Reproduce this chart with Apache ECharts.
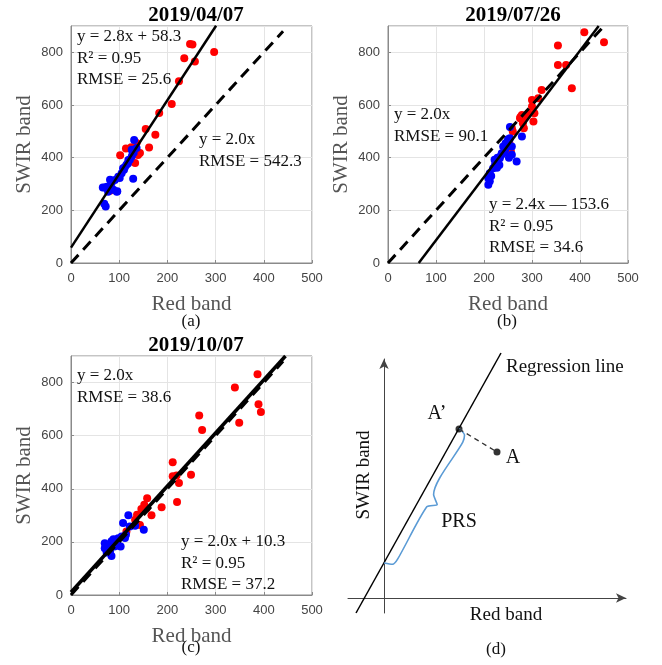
<!DOCTYPE html>
<html>
<head>
<meta charset="utf-8">
<script src="https://cdn.jsdelivr.net/npm/echarts@6/dist/echarts.min.js"></script>
<style>
body { margin: 0; background: #fff; }
#chart { width: 662px; height: 665px; }
</style>
</head>
<body>
<div id="chart"></div>
<script>
// panel titles + captions
var dates = ['2019/04/07', '2019/07/26', '2019/10/07']
var captions = ['(a)', '(b)', '(c)', '(d)']

// (a) 2019/04/07  [red band, swir band]
var redA = [[247, 832], [252, 830], [235, 778], [297, 801], [257, 765], [224, 690], [209, 604], [183, 570],
  [155, 509], [175, 487], [162, 439], [114, 435], [102, 409], [139, 410], [143, 418], [133, 380],
  [136, 456], [119, 382], [125, 440], [81, 274]]
var blueA = [[66, 287], [69, 225], [72, 215], [81, 316], [88, 278], [96, 272], [81, 278], [101, 323],
  [110, 354], [115, 373], [122, 392], [128, 418], [131, 467], [136, 437], [126, 430], [129, 320],
  [130, 419], [126, 404], [119, 391], [108, 360], [105, 341], [98, 328], [91, 315], [84, 303],
  [70, 287], [77, 271], [95, 271], [75, 290], [112, 365], [118, 378]]
var fitA = [[0, 58.3], [301, 901]]
var refA = [[0, 0], [440, 880]]

// (b) 2019/07/26
var redB = [[409, 876], [450, 838], [354, 826], [354, 752], [371, 752], [383, 664], [320, 657], [313, 626],
  [300, 619], [300, 594], [305, 569], [292, 569], [279, 562], [286, 556], [275, 550], [281, 531],
  [303, 537], [283, 512], [258, 512], [260, 499], [253, 455], [256, 423], [249, 455], [276, 554]]
var blueB = [[254, 516], [254, 474], [251, 461], [247, 442], [244, 430], [258, 442], [237, 417], [230, 398],
  [226, 385], [223, 373], [219, 360], [212, 341], [209, 322], [209, 297], [268, 385], [279, 480],
  [258, 411], [233, 398], [240, 442], [250, 470], [227, 362], [232, 372], [222, 392], [215, 330],
  [245, 455], [236, 410], [228, 400], [212, 310], [252, 400], [242, 420]]
var fitB = [[64, 0], [439, 900]]
var refB = [[0, 0], [445, 890]]

// (c) 2019/10/07
var redC = [[387, 831], [340, 781], [389, 718], [394, 689], [349, 649], [266, 676], [272, 621], [211, 500],
  [211, 447], [219, 450], [249, 453], [224, 422], [220, 350], [188, 330], [167, 300], [158, 364],
  [152, 340], [157, 327], [146, 324], [137, 302], [143, 264], [133, 283], [115, 239], [150, 320]]
var blueC = [[119, 300], [108, 271], [122, 258], [133, 261], [151, 246], [114, 227], [105, 220], [98, 214],
  [91, 208], [84, 202], [99, 185], [90, 183], [77, 185], [70, 195], [70, 176], [81, 164],
  [84, 147], [74, 160], [95, 195], [103, 183], [112, 215], [88, 210]]
var fitC = [[0, 10.3], [445, 900]]
var refC = [[0, 0], [440, 880]]

// equation text blocks
var eqA = ['y = 2.8x + 58.3', 'R² = 0.95', 'RMSE = 25.6']
var refTextA = ['y = 2.0x', 'RMSE = 542.3']
var eqB = ['y = 2.4x — 153.6', 'R² = 0.95', 'RMSE = 34.6']
var refTextB = ['y = 2.0x', 'RMSE = 90.1']
var eqC = ['y = 2.0x + 10.3', 'R² = 0.95', 'RMSE = 37.2']
var refTextC = ['y = 2.0x', 'RMSE = 38.6']

// (d) schematic, arbitrary units, origin where the axes cross
var regLine = [[-28, -15], [117, 245]]
var pointA1 = [75, 169]   // A'
var pointA = [113, 146]   // A
var brace = [[0, 35], [8.5, 33.7], [13.6, 38.8], [42.8, 91.2], [53.2, 93.4], [49.6, 103.4],
  [78.8, 155.8], [80.5, 162.9], [75, 169.5]]

var serif = 'Liberation Serif'
var sans = 'Liberation Sans'

const myCharts = echarts.init(document.getElementById('chart'))

function xAx(gi) {
  return {
    gridIndex: gi, type: 'value', min: 0, max: 500, interval: 100,
    name: 'Red band', nameLocation: 'middle', nameGap: 31,
    nameTextStyle: { fontFamily: serif, fontSize: 21, color: '#555' },
    axisLine: { lineStyle: { color: '#8a8a8a' } },
    axisTick: { inside: true, length: 3, lineStyle: { color: '#8a8a8a' } },
    axisLabel: { color: '#444', fontSize: 13, fontFamily: sans, margin: 9 },
    splitLine: { lineStyle: { color: '#e4e4e4' } }
  }
}
function yAx(gi) {
  return {
    gridIndex: gi, type: 'value', min: 0, max: 900, interval: 200,
    name: 'SWIR band', nameLocation: 'middle', nameGap: 36,
    nameTextStyle: { fontFamily: serif, fontSize: 21, color: '#555' },
    axisLine: { show: true, lineStyle: { color: '#8a8a8a' } },
    axisTick: { show: true, inside: true, length: 3, lineStyle: { color: '#8a8a8a' } },
    axisLabel: {
      color: '#444', fontSize: 13, fontFamily: sans, margin: 8, showMaxLabel: false,
      formatter: function (v) { return v > 800 ? '' : v }
    },
    splitLine: { lineStyle: { color: '#e4e4e4' } }
  }
}
function schemAx(gi, min, max) {
  return {
    gridIndex: gi, type: 'value', min: min, max: max,
    axisLine: { onZero: true, symbol: ['none', 'arrow'], symbolSize: [7, 10], lineStyle: { color: '#444', width: 1 } },
    axisTick: { show: false }, axisLabel: { show: false }, splitLine: { show: false }
  }
}
function panel(gi, red, blue, fit, ref, fitWidth) {
  return [
    { type: 'scatter', xAxisIndex: gi, yAxisIndex: gi, data: red, symbolSize: 8, itemStyle: { color: '#ff0000', opacity: 1 } },
    { type: 'scatter', xAxisIndex: gi, yAxisIndex: gi, data: blue, symbolSize: 8, itemStyle: { color: '#0000ff', opacity: 1 } },
    { type: 'line', xAxisIndex: gi, yAxisIndex: gi, data: ref, symbol: 'none', lineStyle: { color: '#000', width: 3, type: [11, 7] } },
    { type: 'line', xAxisIndex: gi, yAxisIndex: gi, data: fit, symbol: 'none', lineStyle: { color: '#000', width: fitWidth } }
  ]
}
function block(lines, x, y0) {
  return lines.map(function (t, i) {
    return {
      type: 'text', x: x, y: y0 + i * 21.5, z: 100,
      style: { text: t, font: '17px "' + serif + '"', fill: '#111', align: 'left', verticalAlign: 'middle' }
    }
  })
}
function label(t, x, y, size, extra) {
  var g = {
    type: 'text', x: x, y: y, z: 100,
    style: { text: t, font: size + 'px "' + serif + '"', fill: '#111', align: 'center', verticalAlign: 'middle' }
  }
  return Object.assign(g, extra || {})
}

var regLabel = label('Regression line', 506, 367, 19)
regLabel.style.align = 'left'

const options = {
  animation: false,
  title: [
    { text: dates[0], left: 191, top: 0, textAlign: 'center' },
    { text: dates[1], left: 508, top: 0, textAlign: 'center' },
    { text: dates[2], left: 191, top: 330, textAlign: 'center' }
  ].map(function (t) {
    t.textStyle = { fontFamily: serif, fontSize: 21, fontWeight: 'bold', color: '#000' }
    return t
  }),
  grid: [
    { left: 71, top: 26, width: 241, height: 237, show: true, borderColor: '#8a8a8a', borderWidth: 1 },
    { left: 388, top: 26, width: 240, height: 237, show: true, borderColor: '#8a8a8a', borderWidth: 1 },
    { left: 71, top: 356, width: 241, height: 239, show: true, borderColor: '#8a8a8a', borderWidth: 1 },
    { left: 348, top: 359, width: 278, height: 254 }
  ],
  xAxis: [xAx(0), xAx(1), xAx(2), schemAx(3, -36, 242)],
  yAxis: [yAx(0), yAx(1), yAx(2), schemAx(3, -15, 239)],
  series: [].concat(
    panel(0, redA, blueA, fitA, refA, 2.5),
    panel(1, redB, blueB, fitB, refB, 2.5),
    panel(2, redC, blueC, fitC, refC, 3.5),
    [
      { type: 'line', xAxisIndex: 3, yAxisIndex: 3, data: regLine, symbol: 'none', clip: false, lineStyle: { color: '#000', width: 1.5 } },
      { type: 'line', xAxisIndex: 3, yAxisIndex: 3, data: brace, symbol: 'none', smooth: 0.25, lineStyle: { color: '#5b9bd5', width: 1.6 } },
      { type: 'line', xAxisIndex: 3, yAxisIndex: 3, data: [pointA1, pointA], symbol: 'none', lineStyle: { color: '#333', width: 1.3, type: [5, 4] } },
      { type: 'scatter', xAxisIndex: 3, yAxisIndex: 3, data: [pointA1, pointA], symbolSize: 7, itemStyle: { color: '#000' } }
    ]
  ),
  graphic: [].concat(
    block(eqA, 77, 37),
    block(refTextA, 199, 140),
    block(refTextB, 394, 115),
    block(eqB, 489, 205),
    block(refTextC, 77, 376),
    block(eqC, 181, 542),
    [
      label(captions[0], 191, 322, 17),
      label(captions[1], 507, 322, 17),
      label(captions[2], 191, 648, 17),
      label(captions[3], 496, 650, 17),
      regLabel,
      label('A’', 437, 414, 20),
      label('A', 513, 458, 20),
      label('PRS', 459, 522, 20),
      label('Red band', 506, 615, 19),
      label('SWIR band', 364, 475, 19, { rotation: Math.PI / 2 })
    ]
  )
}

myCharts.setOption(options)
</script>
</body>
</html>
